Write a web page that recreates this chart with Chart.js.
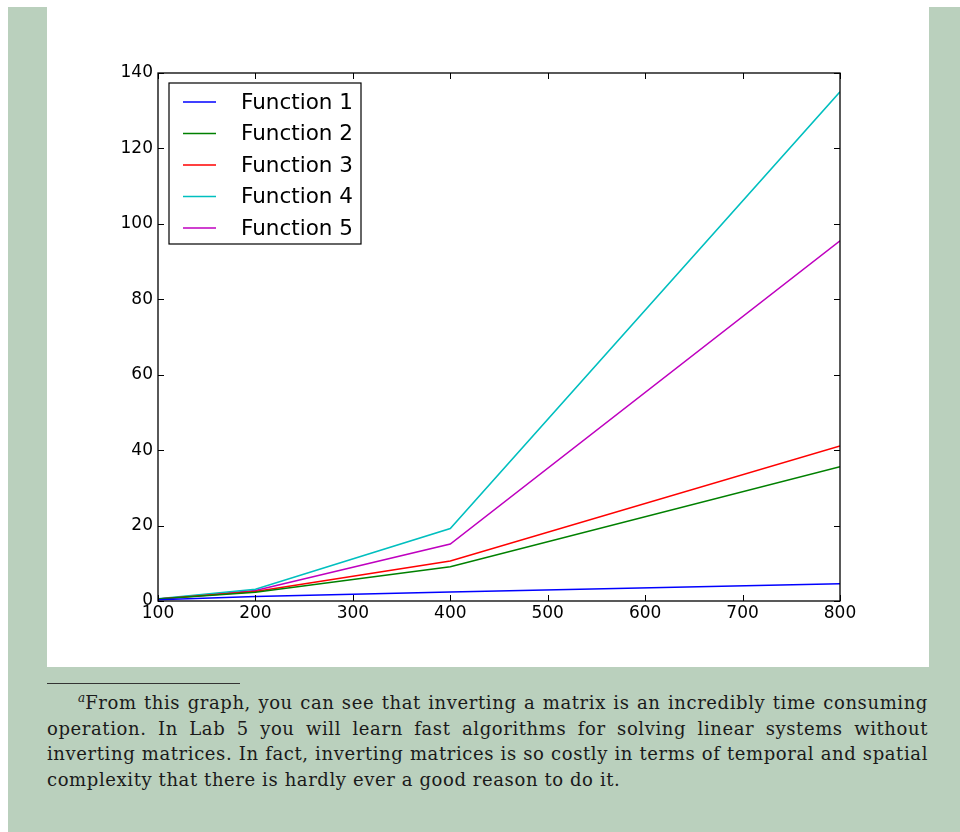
<!DOCTYPE html>
<html>
<head>
<meta charset="utf-8">
<script src="https://cdn.jsdelivr.net/npm/chart.js@4.4.0/dist/chart.umd.min.js"></script>
<style>
    html, body { margin: 0; padding: 0; background: #ffffff; }
    body { width: 960px; height: 832px; position: relative; overflow: hidden; }
    .page {
        position: absolute;
        left: 8px; top: 7px;
        width: 952px; height: 825px;
        background: #bad0bd;
    }
    .panel {
        position: absolute;
        left: 47px; top: 7px;
        width: 882px; height: 660px;
        background: #ffffff;
    }
    .panel canvas { display: block; }
    .rule {
        position: absolute;
        left: 47px; top: 683px;
        width: 193px; height: 1px;
        background: #333333;
    }
    .note {
        position: absolute;
        left: 47px; top: 690px;
        width: 881px;
        font-family: "DejaVu Serif", serif;
        font-size: 18px;
        letter-spacing: 0.6px;
        color: #1a1a1a;
    }
    .note div {
        height: 25.5px;
        line-height: 25.5px;
        white-space: nowrap;
        text-align: justify;
        text-align-last: justify;
    }
    .note div.last { text-align-last: left; }
    .note .first { padding-left: 31px; }
    .note sup { font-style: italic; font-size: 12px; vertical-align: 7px; line-height: 0; letter-spacing: 0; }
</style>
</head>
<body>
<div class="page"></div>
<div class="panel"><canvas id="chart" width="882" height="660"></canvas></div>
<div class="rule"></div>
<div class="note">
    <div class="first"><sup>a</sup>From this graph, you can see that inverting a matrix is an incredibly time consuming</div>
    <div>operation. In Lab 5 you will learn fast algorithms for solving linear systems without</div>
    <div>inverting matrices. In fact, inverting matrices is so costly in terms of temporal and spatial</div>
    <div class="last">complexity that there is hardly ever a good reason to do it.</div>
</div>
<script>
// Matrix sizes and timings
const sizes = [100, 200, 400, 800];
const func1 = [0.3, 1.2, 2.4, 4.6];
const func2 = [0.5, 2.3, 9.1, 35.6];
const func3 = [0.5, 2.5, 10.6, 41.1];
const func4 = [0.6, 3.1, 19.2, 135.0];
const func5 = [0.5, 2.8, 15.1, 95.5];
const seriesNames = ['Function 1', 'Function 2', 'Function 3', 'Function 4', 'Function 5'];
const seriesColors = ['#0000ff', '#008000', '#ff0000', '#00bfbf', '#bf00bf'];

const xTicks = [100, 200, 300, 400, 500, 600, 700, 800];
const yTicks = [0, 20, 40, 60, 80, 100, 120, 140];

const toPoints = (vals) => vals.map((v, i) => ({ x: sizes[i], y: v }));

// Frame around the plot with ticks pointing inward (matplotlib classic look)
const framePlugin = {
    id: 'frame',
    afterDatasetsDraw(chart) {
        const { ctx, chartArea: a, scales } = chart;
        const len = 6;
        ctx.save();
        ctx.strokeStyle = '#000000';
        ctx.lineWidth = 1;
        xTicks.forEach(t => {
            const px = Math.round(scales.x.getPixelForValue(t)) + 0.5;
            ctx.beginPath();
            ctx.moveTo(px, a.bottom); ctx.lineTo(px, a.bottom - len);
            ctx.moveTo(px, a.top); ctx.lineTo(px, a.top + len);
            ctx.stroke();
        });
        yTicks.forEach(t => {
            const py = Math.round(scales.y.getPixelForValue(t)) + 0.5;
            ctx.beginPath();
            ctx.moveTo(a.left, py); ctx.lineTo(a.left + len, py);
            ctx.moveTo(a.right, py); ctx.lineTo(a.right - len, py);
            ctx.stroke();
        });
        ctx.lineWidth = 1.3;
        ctx.strokeRect(a.left, a.top, a.right - a.left, a.bottom - a.top);
        ctx.restore();
    },
    afterDraw(chart) {
        // legend box in the upper left corner of the plot
        const { ctx, chartArea: a } = chart;
        const bx = a.left + 11, by = a.top + 10, bw = 192, bh = 161;
        ctx.save();
        ctx.fillStyle = '#ffffff';
        ctx.fillRect(bx, by, bw, bh);
        ctx.strokeStyle = '#000000';
        ctx.lineWidth = 1.2;
        ctx.strokeRect(bx, by, bw, bh);
        ctx.font = '21.5px "DejaVu Sans"';
        ctx.textBaseline = 'middle';
        chart.data.datasets.forEach((ds, i) => {
            const cy = by + 19 + i * 31.5;
            ctx.strokeStyle = ds.borderColor;
            ctx.lineWidth = 1.5;
            ctx.beginPath();
            ctx.moveTo(bx + 14, cy); ctx.lineTo(bx + 47, cy);
            ctx.stroke();
            ctx.fillStyle = '#000000';
            ctx.fillText(ds.label, bx + 72, cy + 1);
        });
        ctx.restore();
    }
};

const ctx = document.getElementById('chart').getContext('2d');
new Chart(ctx, {
    type: 'line',
    data: {
        datasets: [func1, func2, func3, func4, func5].map((vals, i) => ({
            label: seriesNames[i],
            data: toPoints(vals),
            borderColor: seriesColors[i],
            backgroundColor: seriesColors[i],
            borderWidth: 1.5,
            pointRadius: 0,
            tension: 0,
            fill: false
        }))
    },
    options: {
        responsive: false,
        animation: false,
        layout: { padding: { left: 0, top: 66, right: 89, bottom: 36 } },
        plugins: {
            legend: { display: false },
            tooltip: { enabled: false }
        },
        scales: {
            x: {
                type: 'linear',
                min: 100,
                max: 800,
                afterFit: (scale) => { scale.height = 30; },
                afterBuildTicks: (scale) => { scale.ticks = xTicks.map(v => ({ value: v })); },
                ticks: {
                    color: '#000000',
                    font: { family: 'DejaVu Sans', size: 17 },
                    padding: 2,
                    maxRotation: 0,
                    autoSkip: false
                },
                grid: { display: false, drawTicks: false },
                border: { display: false }
            },
            y: {
                type: 'linear',
                min: 0,
                max: 140,
                afterFit: (scale) => { scale.width = 111; },
                afterBuildTicks: (scale) => { scale.ticks = yTicks.map(v => ({ value: v })); },
                ticks: {
                    color: '#000000',
                    font: { family: 'DejaVu Sans', size: 17 },
                    padding: 5,
                    autoSkip: false
                },
                grid: { display: false, drawTicks: false },
                border: { display: false }
            }
        }
    },
    plugins: [framePlugin]
});
</script>
</body>
</html>
